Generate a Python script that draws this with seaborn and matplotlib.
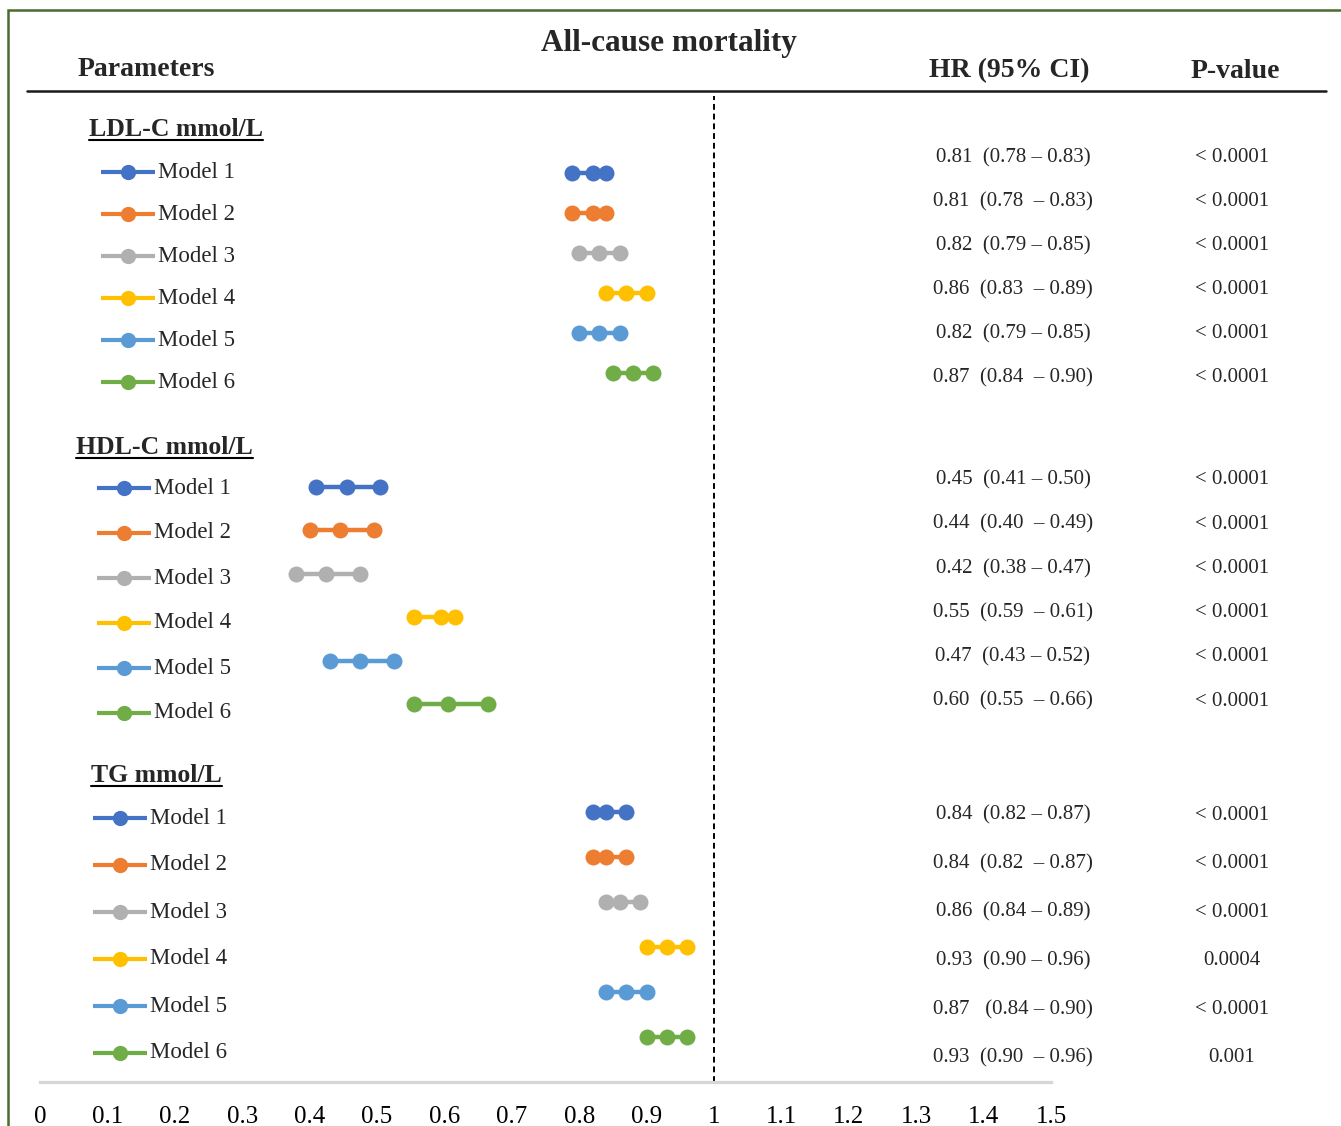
import matplotlib
matplotlib.use("Agg")
import matplotlib.pyplot as plt
import seaborn as sns
import pandas as pd

# ---- data ----
models = ["Model 1", "Model 2", "Model 3", "Model 4", "Model 5", "Model 6"]
sections = ["LDL-C mmol/L", "HDL-C mmol/L", "TG mmol/L"]

# plotted dots (lower, HR, upper)
ldl_low = [0.79, 0.79, 0.80, 0.84, 0.80, 0.85]
ldl_hr = [0.82, 0.82, 0.83, 0.87, 0.83, 0.88]
ldl_up = [0.84, 0.84, 0.86, 0.90, 0.86, 0.91]

hdl_low = [0.41, 0.40, 0.38, 0.555, 0.43, 0.555]
hdl_hr = [0.455, 0.445, 0.425, 0.595, 0.475, 0.605]
hdl_up = [0.505, 0.495, 0.475, 0.615, 0.525, 0.665]

tg_low = [0.82, 0.82, 0.84, 0.90, 0.84, 0.90]
tg_hr = [0.84, 0.84, 0.86, 0.93, 0.87, 0.93]
tg_up = [0.87, 0.87, 0.89, 0.96, 0.90, 0.96]

# table text
ldl_ci = ["0.81  (0.78 – 0.83)", "0.81  (0.78  – 0.83)", "0.82  (0.79 – 0.85)",
          "0.86  (0.83  – 0.89)", "0.82  (0.79 – 0.85)", "0.87  (0.84  – 0.90)"]
ldl_p = ["< 0.0001", "< 0.0001", "< 0.0001", "< 0.0001", "< 0.0001", "< 0.0001"]
hdl_ci = ["0.45  (0.41 – 0.50)", "0.44  (0.40  – 0.49)", "0.42  (0.38 – 0.47)",
          "0.55  (0.59  – 0.61)", "0.47  (0.43 – 0.52)", "0.60  (0.55  – 0.66)"]
hdl_p = ["< 0.0001", "< 0.0001", "< 0.0001", "< 0.0001", "< 0.0001", "< 0.0001"]
tg_ci = ["0.84  (0.82 – 0.87)", "0.84  (0.82  – 0.87)", "0.86  (0.84 – 0.89)",
         "0.93  (0.90 – 0.96)", "0.87   (0.84 – 0.90)", "0.93  (0.90  – 0.96)"]
tg_p = ["< 0.0001", "< 0.0001", "< 0.0001", "0.0004", "< 0.0001", "0.001"]

xticks = [0, 0.1, 0.2, 0.3, 0.4, 0.5, 0.6, 0.7, 0.8, 0.9, 1, 1.1, 1.2, 1.3, 1.4, 1.5]
xtick_labels = ["0", "0.1", "0.2", "0.3", "0.4", "0.5", "0.6", "0.7", "0.8", "0.9",
                "1", "1.1", "1.2", "1.3", "1.4", "1.5"]

colors = ["#4472C4", "#ED7D31", "#B0B0B0", "#FFC000", "#5B9BD5", "#70AD47"]

# ---- layout (pixel rows, y measured from top) ----
layout = [
    dict(title_x=89, title_y=136, sx=101, lab0=172, labd=42, dot0=173, dotd=40, tab0=158, tabd=44),
    dict(title_x=76, title_y=454, sx=97, lab0=488, labd=45, dot0=487, dotd=43.4, tab0=480, tabd=44.2),
    dict(title_x=91, title_y=782, sx=93, lab0=818, labd=47, dot0=811.5, dotd=45.1, tab0=815, tabd=48.6),
]

lows = [ldl_low, hdl_low, tg_low]
hrs = [ldl_hr, hdl_hr, tg_hr]
ups = [ldl_up, hdl_up, tg_up]
cis = [ldl_ci, hdl_ci, tg_ci]
ps = [ldl_p, hdl_p, tg_p]

rows = []
for s, sec in enumerate(sections):
    L = layout[s]
    for i, m in enumerate(models):
        y = L["dot0"] + i * L["dotd"]
        for v in (lows[s][i], hrs[s][i], ups[s][i]):
            rows.append(dict(section=sec, model=m, row=f"{s}-{i}", value=v, y=y))
df = pd.DataFrame(rows)

sns.set_theme(style="white")
plt.rcParams["font.family"] = ["Liberation Serif", "DejaVu Serif"]

W, H = 1341, 1126
fig = plt.figure(figsize=(W / 100, H / 100), dpi=100)
fig.patch.set_facecolor("white")

# forest axes: x 0..1.5 spans px 40..1051, y spans px 96..1082
top_px, bot_px = 96, 1082
fax = fig.add_axes([40 / W, (H - bot_px) / H, (1051 - 40) / W, (bot_px - top_px) / H])
fax.set_facecolor("none")
sns.lineplot(data=df, x="value", y="y", hue="model", units="row", estimator=None,
             sort=True, marker="o", markersize=11.5, markeredgewidth=0, linewidth=3.2,
             palette=colors, legend=False, ax=fax, clip_on=False)
fax.set_xlim(0, 1.5)
fax.set_ylim(bot_px, top_px)
fax.axvline(1, color="black", lw=1.4, ls=(0, (3, 2)))
fax.set_xticks(xticks)
fax.set_xticklabels(xtick_labels, fontsize=18)
fax.tick_params(axis="x", length=0, pad=17, colors="black")
fax.set_yticks([])
fax.set_xlabel("")
fax.set_ylabel("")
for sp in ["top", "right", "left"]:
    fax.spines[sp].set_visible(False)
fax.spines["bottom"].set_color("#d6d6d6")
fax.spines["bottom"].set_linewidth(2.3)

# overlay axes in pixel coordinates for the text and decorations
ox = fig.add_axes([0, 0, 1, 1])
ox.set_xlim(0, W)
ox.set_ylim(H, 0)
ox.axis("off")
ox.patch.set_alpha(0)

# green frame (cropped on right and bottom)
ox.plot([8, 8, W + 5], [H + 5, 10, 10], color="#4B6B2F", lw=1.8, solid_joinstyle="miter")

# headers
ox.text(669, 43, "All-cause mortality", fontsize=22.5, fontweight="bold", ha="center", va="center")
ox.text(78, 69, "Parameters", fontsize=20, fontweight="bold", ha="left", va="center")
ox.text(1009, 71, "HR (95% CI)", fontsize=20, fontweight="bold", ha="center", va="center")
ox.text(1235, 71, "P-value", fontsize=20, fontweight="bold", ha="center", va="center")
ox.plot([27, 1326], [91, 91], color="#1a1a1a", lw=1.8)

titles = []
for s, sec in enumerate(sections):
    L = layout[s]
    t = ox.text(L["title_x"], L["title_y"], sec, fontsize=18.5, fontweight="bold",
                ha="left", va="baseline")
    titles.append((t, L["title_y"]))
    for i, m in enumerate(models):
        ly = L["lab0"] + i * L["labd"]
        ox.plot([L["sx"], L["sx"] + 54], [ly, ly], color=colors[i], lw=3, solid_capstyle="butt")
        ox.plot([L["sx"] + 27], [ly], "o", color=colors[i], ms=11, mew=0)
        ox.text(L["sx"] + 57, ly, m, fontsize=16.5, ha="left", va="center")
        ty = L["tab0"] + i * L["tabd"]
        ox.text(1013, ty, cis[s][i], fontsize=15, ha="center", va="center")
        ox.text(1232, ty, ps[s][i], fontsize=15, ha="center", va="center")

# underline section titles
fig.canvas.draw()
r = fig.canvas.get_renderer()
for t, by in titles:
    bb = t.get_window_extent(renderer=r)
    ox.plot([bb.x0, bb.x1], [by + 4, by + 4], color="black", lw=1.5)

fig.savefig("out.png", dpi=100)
